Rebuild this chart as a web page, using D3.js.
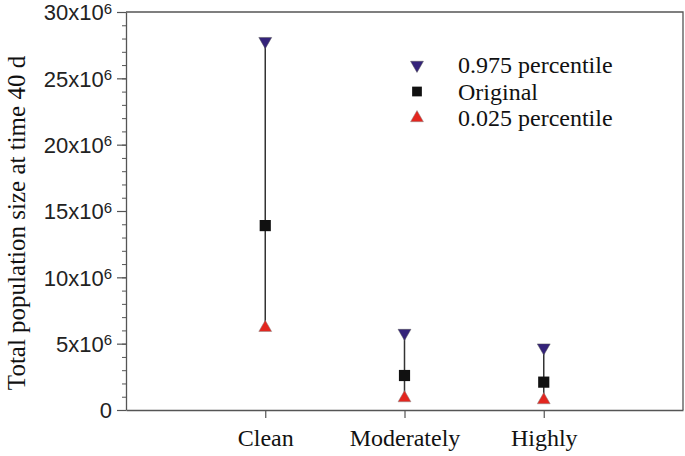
<!DOCTYPE html>
<html>
<head>
<meta charset="utf-8">
<script src="https://cdn.jsdelivr.net/npm/d3@7"></script>
<style>
  body { margin: 0; background: #fff; }
</style>
</head>
<body>
<div id="chart"></div>
<script>
const categories = ["Clean", "Moderately", "Highly"]
const upper = [27.8, 5.8, 4.7]      // 0.975 percentile, x10^6
const original = [13.9, 2.6, 2.1]
const lower = [6.2, 0.9, 0.75]      // 0.025 percentile
const yTicks = [0, 5, 10, 15, 20, 25, 30]
const legendLabels = ["0.975 percentile", "Original", "0.025 percentile"]

const W = 685, H = 456
const margin = { top: 12, right: 2, bottom: 46, left: 126 }
const width = W - margin.left - margin.right
const height = H - margin.top - margin.bottom

const serif = "'Liberation Serif', 'Times New Roman', serif"

const svg = d3.select("#chart").append("svg")
  .attr("width", W)
  .attr("height", H)

const g = svg.append("g").attr("transform", `translate(${margin.left},${margin.top})`)

const x = d3.scaleLinear().domain([0, 4]).range([0, width])
const y = d3.scaleLinear().domain([0, 30]).range([height, 0])

const axisColor = "#555"

// frame top/right
g.append("path")
  .attr("d", `M0,0H${width}V${height}`)
  .attr("fill", "none")
  .attr("stroke", axisColor)
  .attr("stroke-width", 1.3)

// minor y ticks
const yAxisG = g.append("g")
yAxisG.call(d3.axisLeft(y).tickValues(d3.range(0, 31, 1)).tickSize(4).tickFormat(""))
yAxisG.call(a => a.select(".domain").remove())
yAxisG.selectAll("line").attr("stroke", axisColor)

const yMajor = g.append("g")
yMajor.call(d3.axisLeft(y).tickValues(yTicks).tickSize(9).tickSizeOuter(0).tickFormat(""))
yMajor.select(".domain").attr("stroke", axisColor).attr("stroke-width", 1.3)
yMajor.selectAll("line").attr("stroke", axisColor).attr("stroke-width", 1.2)
yMajor.selectAll(".tick").append("text")
  .attr("x", -14)
  .attr("dy", "0.36em")
  .attr("text-anchor", "end")
  .attr("fill", "#222")
  .style("font-family", "'Liberation Sans', Arial, sans-serif")
  .style("font-size", "22px")
  .each(function(d) {
    const t = d3.select(this)
    if (d === 0) { t.text("0"); return }
    t.append("tspan").text(d + "x10")
    t.append("tspan").attr("dy", "-0.45em").style("font-size", "15px").text("6")
  })

// x axis
const xAxisG = g.append("g").attr("transform", `translate(0,${height})`)
xAxisG.call(d3.axisBottom(x).tickValues([1, 2, 3]).tickSize(8).tickSizeOuter(0)
  .tickFormat(d => categories[d - 1]))
xAxisG.select(".domain").attr("stroke", axisColor).attr("stroke-width", 1.3)
xAxisG.selectAll("line").attr("stroke", axisColor).attr("stroke-width", 1.2)
xAxisG.selectAll("text")
  .attr("y", 19)
  .attr("fill", "#111")
  .style("font-family", serif)
  .style("font-size", "24px")

// y label
svg.append("text")
  .attr("transform", `translate(25,${margin.top + 211}) rotate(-90)`)
  .attr("text-anchor", "middle")
  .attr("fill", "#111")
  .style("font-family", serif)
  .style("font-size", "25px")
  .text("Total population size at time 40 d")

const data = categories.map((c, i) => ({ i: i + 1, up: upper[i], orig: original[i], lo: lower[i] }))

// error lines
g.selectAll(".bar").data(data).enter().append("line")
  .attr("x1", d => x(d.i)).attr("x2", d => x(d.i))
  .attr("y1", d => y(d.up)).attr("y2", d => y(d.lo))
  .attr("stroke", "#333").attr("stroke-width", 1.5)

const triUp = d3.symbol().type(d3.symbolTriangle).size(72)
const sq = d3.symbol().type(d3.symbolSquare).size(125)
const upColor = "#34237a", loColor = "#e3261f"

function downTri(sel) {
  return sel.attr("d", triUp()).attr("fill", upColor).attr("stroke", "#555").attr("stroke-width", 0.5)
}

g.selectAll(".up").data(data).enter().append("path")
  .attr("transform", d => `translate(${x(d.i)},${y(d.up)}) rotate(180)`)
  .call(downTri)

g.selectAll(".orig").data(data).enter().append("path")
  .attr("transform", d => `translate(${x(d.i)},${y(d.orig)})`)
  .attr("d", sq()).attr("fill", "#111")

g.selectAll(".lo").data(data).enter().append("path")
  .attr("transform", d => `translate(${x(d.i)},${y(d.lo)})`)
  .attr("d", triUp()).attr("fill", loColor).attr("stroke", "#888").attr("stroke-width", 0.5)

// legend
const legend = svg.append("g").attr("transform", "translate(417,65)")
legendLabels.forEach((lab, k) => {
  const row = legend.append("g").attr("transform", `translate(0,${k * 26.5})`)
  if (k === 0) row.append("path").attr("transform", "rotate(180)").call(downTri)
  else if (k === 1) row.append("path").attr("d", d3.symbol().type(d3.symbolSquare).size(95)()).attr("fill", "#111")
  else row.append("path").attr("d", triUp()).attr("fill", loColor).attr("stroke", "#888").attr("stroke-width", 0.5)
  row.append("text")
    .attr("x", 41)
    .attr("dy", "0.35em")
    .attr("fill", "#111")
    .style("font-family", serif)
    .style("font-size", "24px")
    .text(lab)
})
</script>
</body>
</html>
